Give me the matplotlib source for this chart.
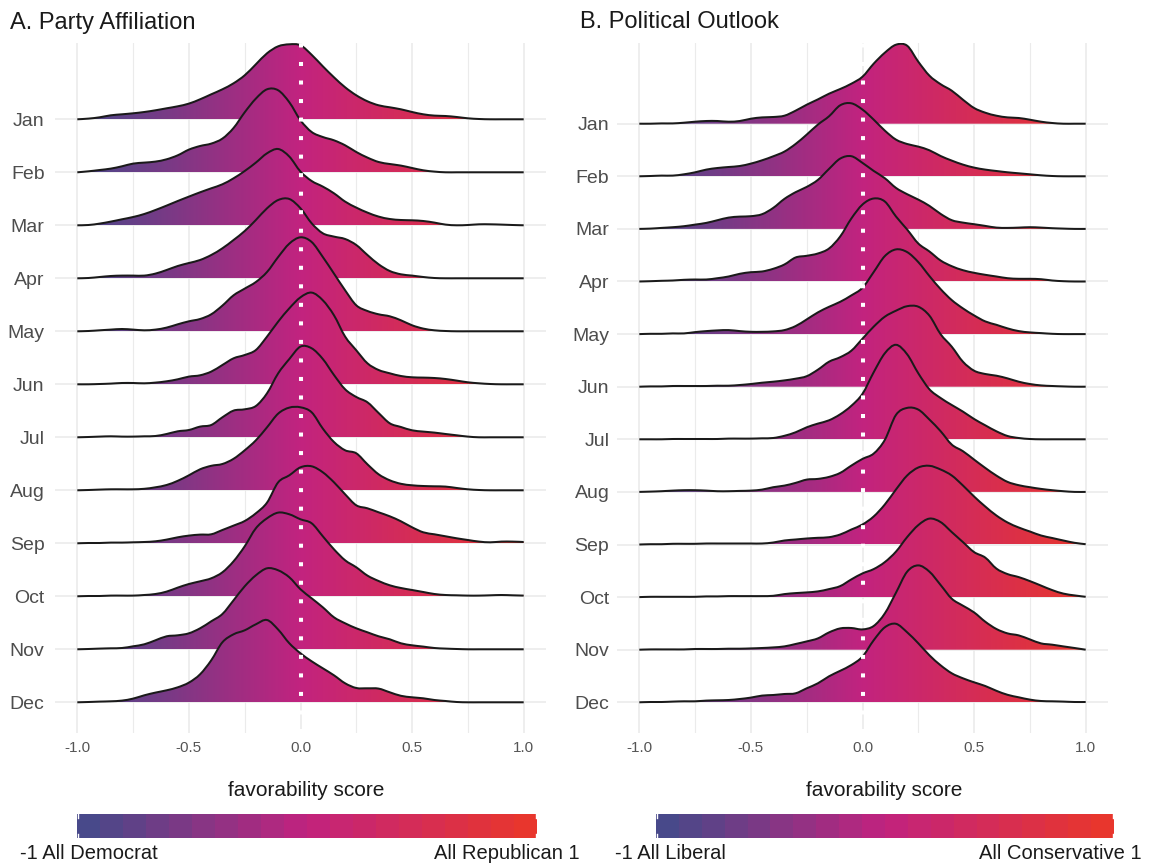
import numpy as np
import matplotlib
matplotlib.use("Agg")
import matplotlib.pyplot as plt
from matplotlib.colors import LinearSegmentedColormap
from matplotlib.patches import PathPatch
from matplotlib.path import Path

plt.rcParams['font.family'] = ['Liberation Sans', 'DejaVu Sans']

months = ['Jan', 'Feb', 'Mar', 'Apr', 'May', 'Jun',
          'Jul', 'Aug', 'Sep', 'Oct', 'Nov', 'Dec']

# favorability score grid the ridge heights were read at (-1 .. 1, step 0.05)
score = np.round(np.arange(-1, 1.0001, 0.05), 2)
x_ticks = [-1.0, -0.5, 0.0, 0.5, 1.0]
x_minor = [-0.75, -0.25, 0.25, 0.75]
x_tick_labels = ['-1.0', '-0.5', '0.0', '0.5', '1.0']

# ridge heights (relative density), A. Party Affiliation
party_jan = [0, 0.7, 2, 4, 5, 6, 7.3, 9, 11, 13, 15.7, 20, 25, 30, 36, 44, 55, 66, 73, 75, 74,
             64.5, 53, 42, 32, 24, 18, 14, 12, 10, 7.3, 5, 3.7, 3.3, 2.3, 1, 0.3, 0, 0, 0, 0]
party_feb = [0, 1, 2.3, 3.7, 6, 8.7, 9.7, 10.7, 13, 17, 22.7, 26.3, 28.7, 33.7, 44.3, 60, 73.7, 83, 82, 70, 52,
             40.3, 35.3, 32, 27, 20.3, 14.7, 10.3, 8.3, 6.7, 4.3, 2, 0.7, 0, 0, 0, 0, 0, 0, 0, 0]
party_mar = [0, 0.3, 1.7, 3.7, 6, 8.3, 11.3, 15.3, 19.7, 24.3, 28.7, 33, 37, 41, 47, 54.3, 62.7, 72, 76.3, 68.7, 53.7,
             44.3, 38.7, 32, 23.7, 17.7, 12.7, 8.7, 6.3, 5.3, 5, 4.3, 2.7, 0.7, 0, 0.3, 1, 1, 0.7, 0.3, 0]
party_apr = [0, 0.3, 1.3, 2.3, 2.7, 2.7, 2.7, 4.7, 8.3, 12.3, 15.3, 18.3, 23.3, 30, 38.3, 47.3, 58.3, 70, 78.3, 79.3, 70,
             55, 45, 41.7, 39.3, 33.3, 23.3, 14, 7.3, 4, 2.7, 1.3, 0.3, 0, 0, 0, 0, 0, 0, 0, 0]
party_may = [0, 0.3, 1, 1.7, 2.3, 1.7, 1, 1.7, 3.7, 7, 10, 12.3, 17, 25.7, 36, 42.7, 49.3, 59.3, 74.3, 87.7, 94,
             89.3, 74.3, 57.7, 41, 26, 20.3, 17, 15, 11, 6, 2.7, 1, 0.3, 0, 0, 0, 0, 0, 0, 0]
party_jun = [0, 0, 0.3, 0.7, 1.3, 1.3, 1, 1.7, 3, 5, 7.7, 9, 12.7, 19.3, 26, 29.3, 34.3, 47.7, 62.7, 76, 87,
             91.7, 84, 69, 47.7, 34, 21, 14.3, 11, 8.3, 7, 6.7, 6.3, 5.3, 3.7, 2, 1, 0.3, 0, 0, 0]
party_jul = [0, 0.3, 0.7, 1, 0.7, 0.7, 1, 1.3, 3.3, 6, 7.3, 10.7, 12.3, 20, 26.7, 28, 31.3, 44, 64, 78.3, 90.7,
             89, 78.3, 62.3, 48, 40.3, 35, 24.3, 14, 10.3, 7, 5.7, 4.7, 3.3, 2, 0.7, 0, 0, 0, 0, 0]
party_aug = [0, 0.3, 0.7, 1, 1, 1, 1.5, 3, 5.3, 9.5, 15, 21, 24.5, 26.3, 31.5, 40, 50, 63, 76.7, 82.7, 83,
             78, 61.7, 48.3, 40, 37, 26, 16, 10, 6.5, 5, 4.3, 4, 3.7, 2.3, 1, 0.3, 0, 0, 0, 0]
party_sep = [0, 0.3, 0.3, 0.7, 0.7, 1, 1.3, 2, 3.7, 6, 7.7, 8.7, 9, 13.3, 17.7, 22.3, 30, 40.7, 61, 68, 76,
             77, 71, 61, 49, 38, 35, 31, 27, 22, 16, 11, 9, 7, 5, 3.3, 1.7, 1, 1.7, 1.7, 1.3]
party_oct = [0, 0.3, 0.3, 0.7, 0.7, 0.7, 1.3, 2.3, 4.7, 8.7, 12.3, 15, 18, 24, 35, 50, 68, 78, 83.7, 82, 77,
             73, 60, 47, 36, 29, 20.7, 15.3, 11, 8.3, 6.3, 4.3, 2.3, 1.3, 1, 0.7, 0.7, 1, 1.3, 1, 0.7]
party_nov = [0, 0.3, 0.7, 1, 1.3, 3, 5, 9, 13, 14, 16, 21, 28, 35.3, 49, 63, 74, 81, 79, 72, 60,
             51, 42, 32, 26, 21, 17, 13, 10, 6, 4, 2.7, 1.3, 0.7, 0.3, 0, 0, 0, 0, 0, 0]
party_dec = [0, 0.3, 0.7, 1, 1.7, 3.7, 7, 9.7, 12, 15, 19.7, 28, 42, 60, 68, 72, 78, 82.3, 72.7, 59, 49,
             41, 34, 27, 19, 14.3, 14, 13.7, 10, 6.5, 5, 4, 2.3, 1.3, 0.3, 0, 0, 0, 0, 0, 0]

# ridge heights (relative density), B. Political Outlook
outlook_jan = [0, 0, 0.3, 0.3, 1, 2, 2.7, 2.7, 2, 2.7, 5, 6.3, 6.7, 8, 13, 19, 24.3, 30, 34.7, 40, 47,
               60, 71, 79, 78, 62, 48, 39.5, 33, 24, 15.7, 11, 8, 6.3, 5.7, 4, 2, 0.7, 0, 0, 0]
outlook_feb = [0, 0.3, 0.7, 0.7, 2, 4, 6.7, 8.3, 9.3, 10.3, 12.7, 16, 20, 24.7, 32.3, 41.7, 51.7, 60, 71, 73, 66.7,
               56.7, 45.7, 36.7, 32.3, 29.7, 26, 20.3, 15.7, 11.7, 8.7, 6.7, 5.3, 4, 3, 2, 1, 0.3, 0, 0, 0]
outlook_mar = [0, 0.3, 1, 1.7, 2.7, 4.3, 6, 8.7, 11.3, 12.3, 12.7, 14.7, 21, 30, 36.7, 42, 49, 60, 70.3, 72.7, 66,
               58, 50.7, 41, 34.7, 29.3, 23, 15, 8.7, 6.3, 4.7, 3, 1.3, 1, 1.3, 1.7, 1.3, 0.7, 0.3, 0, 0]
outlook_apr = [0, 0.3, 0.7, 1, 1.7, 2, 2, 3.3, 5, 7.7, 9.3, 10, 12.7, 17, 24, 25.7, 28, 33, 45, 63, 77,
               83, 80, 65, 52, 38, 30, 21, 15.3, 11.3, 8.7, 6.7, 5, 3.3, 2.7, 2.7, 2.3, 1, 0.3, 0, 0]
outlook_may = [0, 0.3, 0.3, 0.7, 0.7, 2, 3, 3.7, 4, 3, 2.3, 2.3, 2.7, 4, 8, 14.7, 21.7, 27.3, 32.3, 38.7, 46.3,
               62, 78, 84.7, 82, 72, 58, 45, 34, 25.7, 18.7, 12.7, 9.3, 5.7, 3, 1.7, 1, 0.3, 0, 0, 0]
outlook_jun = [0, 0.3, 0.3, 0.7, 0.7, 0.7, 0.7, 1, 1, 1.7, 2.7, 4, 5, 6.3, 8, 10.5, 17, 25, 29.5, 36, 48,
               60, 70, 76, 80.5, 80, 71, 52.5, 40, 25, 16, 12.7, 11, 8.3, 5, 2.7, 1.3, 0.7, 0.3, 0, 0]
outlook_jul = [0, 0, 0, 0.3, 0.3, 0.3, 0.3, 0.3, 0.7, 0.7, 0.7, 1, 1.3, 3.5, 7, 12, 15.7, 19, 25, 33.5, 45.5,
               67, 86, 94.5, 85, 66, 50, 41.3, 34.3, 27.7, 20.3, 14, 8, 3.3, 1.3, 0.3, 0, 0, 0, 0, 0]
outlook_aug = [0, 0.3, 0.7, 1.3, 1.7, 1.7, 1.3, 0.7, 0.7, 1, 1.3, 2.3, 4.7, 6.3, 9, 12.3, 13, 15, 19, 26.3, 33,
               38.3, 52, 77, 84, 82.3, 72.3, 60.7, 47.3, 40.7, 32.3, 24, 16.3, 10, 6.7, 4.7, 3, 1.7, 0.7, 0, 0]
outlook_sep = [0, 0.3, 0.3, 0.7, 0.7, 0.7, 1, 1, 1, 1, 1, 1, 2, 4, 5, 6, 6.7, 7.3, 10, 15, 20,
               28, 40, 55, 69, 77, 78.7, 75, 69, 59, 48, 38, 29, 22, 17, 13, 9, 6.5, 4, 1.7, 0.3]
outlook_oct = [0, 0.3, 0.3, 0.3, 0.3, 0.3, 0.7, 0.7, 1, 1, 1, 1, 1.3, 3, 4, 4.7, 5.7, 8, 11, 17.7, 23.7,
               28, 35, 45.5, 60, 72, 78.5, 75, 65, 55, 45, 39.5, 28.5, 23, 20, 16, 11.5, 7, 3.5, 1.7, 0.3]
outlook_nov = [0, 0.3, 0.3, 0.3, 0.3, 0.7, 0.7, 0.7, 1, 1, 1.3, 1.7, 2.3, 3.3, 5.7, 8.3, 11.3, 17.3, 21.3, 21.7, 20.3,
               23.7, 36.3, 57, 78, 84.3, 78, 64.7, 51, 44, 37.3, 28, 20.7, 16.3, 14.3, 10.3, 6.3, 5, 3.3, 1.7, 0]
outlook_dec = [0, 0.3, 0.3, 0.7, 1, 1, 1.7, 2, 2.3, 3.3, 4.7, 6.7, 7.3, 8.3, 9, 14, 19, 26, 31.5, 37.3, 45.7,
               62, 75, 78.5, 70, 59, 47, 37, 29, 24, 20, 16.3, 11.5, 7.5, 5, 2.7, 1.3, 1, 0.7, 0.3, 0.3]

party = [party_jan, party_feb, party_mar, party_apr, party_may, party_jun,
         party_jul, party_aug, party_sep, party_oct, party_nov, party_dec]
outlook = [outlook_jan, outlook_feb, outlook_mar, outlook_apr, outlook_may, outlook_jun,
           outlook_jul, outlook_aug, outlook_sep, outlook_oct, outlook_nov, outlook_dec]

titles = ['A. Party Affiliation', 'B. Political Outlook']
low_labels = ['-1 All Democrat', '-1 All Liberal']
high_labels = ['All Republican 1', 'All Conservative 1']
x_title = 'favorability score'

W, H = 1152, 865
fig = plt.figure(figsize=(W / 100, H / 100), dpi=100)
cmap = LinearSegmentedColormap.from_list('fav', ['#48498A', '#C2237F', '#E8362D'])
grad = np.linspace(-1, 1, 600).reshape(1, -1)


def px_axes(left, top, right, bottom):
    return fig.add_axes([left / W, 1 - bottom / H, (right - left) / W, (bottom - top) / H])


def smooth_path(xs, ys):
    # catmull-rom through the read points, drawn as cubic bezier segments
    p = np.column_stack([xs, ys])
    ext = np.vstack([p[0], p, p[-1]])
    verts = [p[0]]
    codes = [Path.MOVETO]
    for i in range(len(p) - 1):
        c1 = ext[i + 1] + (ext[i + 2] - ext[i]) / 6
        c2 = ext[i + 2] - (ext[i + 3] - ext[i + 1]) / 6
        verts += [c1, c2, p[i + 1]]
        codes += [Path.CURVE4] * 3
    return verts, codes


def draw_panel(ax, dens, row_px, dec_px, ypad):
    n = len(dens)
    for m, d in enumerate(dens):
        base = n - 1 - m
        top = base + np.array(d) / row_px
        verts, codes = smooth_path(score, top)
        line = PathPatch(Path(verts, codes), fill=False, edgecolor='#1A1A1A', lw=1.45,
                         zorder=3.5 + m)
        fverts = verts + [(score[-1], base), (score[0], base), (score[0], base)]
        fcodes = codes + [Path.LINETO, Path.LINETO, Path.CLOSEPOLY]
        clip = PathPatch(Path(fverts, fcodes), transform=ax.transData)
        im = ax.imshow(grad, extent=(-1, 1, base, top.max() + 0.05), cmap=cmap, vmin=-1, vmax=1,
                       aspect='auto', interpolation='bilinear', zorder=3 + m)
        im.set_clip_path(clip)
        ax.add_patch(line)
    ax.axvline(0, color='white', lw=2.9, linestyle=(0, (1, 3.6)), zorder=60)

    ax.set_xlim(-1.1, 1.1)
    ax.set_ylim(-(733 - dec_px) / row_px, (dec_px - 43) / row_px)
    ax.set_yticks(range(n))
    ax.set_yticklabels(months[::-1], fontsize=14, color='#4D4D4D')
    ax.set_xticks(x_ticks)
    ax.set_xticklabels(x_tick_labels, fontsize=11, color='#555555')
    ax.set_xticks(x_minor, minor=True)
    ax.tick_params(axis='both', which='both', length=0)
    ax.tick_params(axis='x', pad=6)
    ax.tick_params(axis='y', pad=ypad)
    ax.grid(which='major', color='#EBEBEB', lw=1.2)
    ax.grid(which='minor', axis='x', color='#EBEBEB', lw=0.8)
    ax.set_axisbelow(True)
    for s in ax.spines.values():
        s.set_visible(False)


def draw_bar(left, right, top, bottom):
    cax = px_axes(left, top, right, bottom)
    cax.imshow(np.linspace(-1, 1, 20).reshape(1, -1), cmap=cmap, vmin=-1, vmax=1,
               extent=(0, 20, 0, 1), aspect='auto', interpolation='nearest')
    for xt in (0.06, 19.94):
        cax.plot([xt, xt], [0, 0.18], color='white', lw=1)
        cax.plot([xt, xt], [0.82, 1], color='white', lw=1)
    cax.set_xlim(0, 20)
    cax.set_ylim(0, 1)
    cax.axis('off')


ax_a = px_axes(55, 43, 546, 733)
draw_panel(ax_a, party, 53.0, 702.3, 7.5)
ax_b = px_axes(617, 43, 1108, 733)
draw_panel(ax_b, outlook, 52.6, 702.3, 5.5)

fig.text(10 / W, 1 - 28.5 / H, titles[0], fontsize=17, color='#1A1A1A', va='baseline')
fig.text(580 / W, 1 - 28.5 / H, titles[1], fontsize=17, color='#1A1A1A', va='baseline')

fig.text(306 / W, 1 - 790 / H, x_title, fontsize=15, color='#1A1A1A', ha='center', va='center')
fig.text(884 / W, 1 - 790 / H, x_title, fontsize=15, color='#1A1A1A', ha='center', va='center')

draw_bar(77, 537, 814, 838)
draw_bar(656, 1114, 814, 838)

fig.text(20 / W, 1 - 859 / H, low_labels[0], fontsize=14.5, color='#1A1A1A', va='baseline')
fig.text(580 / W, 1 - 859 / H, high_labels[0], fontsize=14.5, color='#1A1A1A', va='baseline', ha='right')
fig.text(615 / W, 1 - 859 / H, low_labels[1], fontsize=14.5, color='#1A1A1A', va='baseline')
fig.text(1142 / W, 1 - 859 / H, high_labels[1], fontsize=14.5, color='#1A1A1A', va='baseline', ha='right')

fig.savefig('out.png', dpi=100)
